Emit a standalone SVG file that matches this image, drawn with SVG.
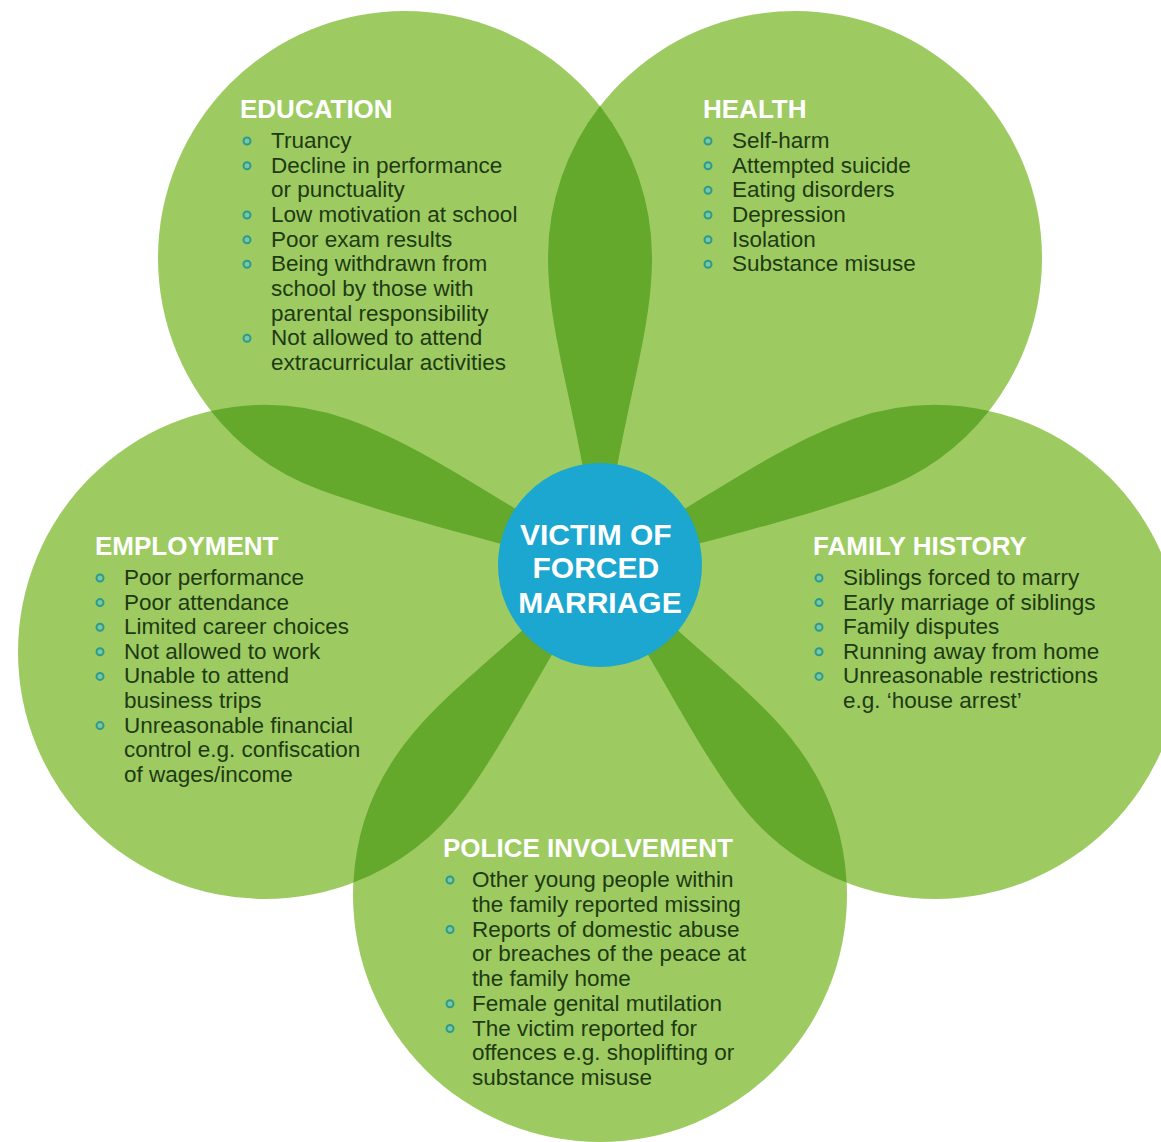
<svg xmlns="http://www.w3.org/2000/svg" width="1161" height="1142" viewBox="0 0 1161 1142">
  <defs>
    <style>
      .disc { fill: #9dcb62; }
      .overlap { fill: #64a82c; }
      .head { font-family: "Liberation Sans", Arial, sans-serif; font-weight: bold; font-size: 26px; fill: #ffffff; }
      .item { font-family: "Liberation Sans", Arial, sans-serif; font-size: 22.5px; fill: #1e3a12; }
      .dot { fill: #7fc6a0; stroke: #2b9c8c; stroke-width: 2; }
      .hub { fill: #1ba7cf; }
      .hub-text { font-family: "Liberation Sans", Arial, sans-serif; font-weight: bold; font-size: 30px; fill: #ffffff; text-anchor: middle; }
    </style>
  </defs>

  <rect width="1161" height="1142" fill="#ffffff"/>

  <!-- light green body of the flower -->
  <g id="flower-body">
    <circle class="disc" cx="600" cy="565" r="250"/>
    <circle class="disc" cx="405" cy="258" r="247"/>
    <circle class="disc" cx="795" cy="258" r="247"/>
    <circle class="disc" cx="935" cy="652" r="247"/>
    <circle class="disc" cx="600" cy="895" r="247"/>
    <circle class="disc" cx="265" cy="652" r="247"/>
  </g>

  <!-- darker petals where neighbouring circles overlap, running in to the hub -->
  <g id="connectors">
    <path class="overlap" d="M600,106 A247,247 0 0 1 652,258 C652,341 618,421 603,565 L597,565 C582,421 548,341 548,258 A247,247 0 0 1 600,106 Z"/>
    <path class="overlap" d="M989,411 A247,247 0 0 1 877.7,490.8 C804.7,516.7 732.1,534.8 601.7,569.7 L598.3,560.3 C716.9,491.8 779.3,445.1 852.3,419.2 A247,247 0 0 1 989,411 Z"/>
    <path class="overlap" d="M846.6,882.6 A247,247 0 0 1 735.1,797 C692.7,738.6 662.5,674.7 596,567.9 L604,562.1 C694.9,651.3 757.5,691.6 799.9,750 A247,247 0 0 1 846.6,882.6 Z"/>
    <path class="overlap" d="M353.4,882.6 A247,247 0 0 1 400.1,750 C442.5,691.6 505.1,651.3 596,562.1 L604,567.9 C537.5,674.7 507.3,738.6 464.9,797 A247,247 0 0 1 353.4,882.6 Z"/>
    <path class="overlap" d="M211,411 A247,247 0 0 1 347.7,419.2 C420.7,445.1 483.1,491.8 601.7,560.3 L598.3,569.7 C467.9,534.8 395.3,516.7 322.3,490.8 A247,247 0 0 1 211,411 Z"/>
  </g>

  <g id="education">
    <text class="head" x="240" y="118">EDUCATION</text>
    <g>
      <circle class="dot" cx="247" cy="141" r="3.5"/>
      <circle class="dot" cx="247" cy="165.7" r="3.5"/>
      <circle class="dot" cx="247" cy="215" r="3.5"/>
      <circle class="dot" cx="247" cy="239.7" r="3.5"/>
      <circle class="dot" cx="247" cy="264.3" r="3.5"/>
      <circle class="dot" cx="247" cy="338.3" r="3.5"/>
    </g>
    <text class="item">
      <tspan x="271" y="148">Truancy</tspan>
      <tspan x="271" y="172.7">Decline in performance</tspan>
      <tspan x="271" y="197.3">or punctuality</tspan>
      <tspan x="271" y="222">Low motivation at school</tspan>
      <tspan x="271" y="246.7">Poor exam results</tspan>
      <tspan x="271" y="271.3">Being withdrawn from</tspan>
      <tspan x="271" y="296">school by those with</tspan>
      <tspan x="271" y="320.7">parental responsibility</tspan>
      <tspan x="271" y="345.3">Not allowed to attend</tspan>
      <tspan x="271" y="370">extracurricular activities</tspan>
    </text>
  </g>

  <g id="health">
    <text class="head" x="703" y="118">HEALTH</text>
    <g>
      <circle class="dot" cx="708" cy="141" r="3.5"/>
      <circle class="dot" cx="708" cy="165.7" r="3.5"/>
      <circle class="dot" cx="708" cy="190.3" r="3.5"/>
      <circle class="dot" cx="708" cy="215" r="3.5"/>
      <circle class="dot" cx="708" cy="239.7" r="3.5"/>
      <circle class="dot" cx="708" cy="264.3" r="3.5"/>
    </g>
    <text class="item">
      <tspan x="732" y="148">Self-harm</tspan>
      <tspan x="732" y="172.7">Attempted suicide</tspan>
      <tspan x="732" y="197.3">Eating disorders</tspan>
      <tspan x="732" y="222">Depression</tspan>
      <tspan x="732" y="246.7">Isolation</tspan>
      <tspan x="732" y="271.3">Substance misuse</tspan>
    </text>
  </g>

  <g id="employment">
    <text class="head" x="95" y="555">EMPLOYMENT</text>
    <g>
      <circle class="dot" cx="100" cy="578" r="3.5"/>
      <circle class="dot" cx="100" cy="602.6" r="3.5"/>
      <circle class="dot" cx="100" cy="627.2" r="3.5"/>
      <circle class="dot" cx="100" cy="651.8" r="3.5"/>
      <circle class="dot" cx="100" cy="676.4" r="3.5"/>
      <circle class="dot" cx="100" cy="725.6" r="3.5"/>
    </g>
    <text class="item">
      <tspan x="124" y="585">Poor performance</tspan>
      <tspan x="124" y="609.6">Poor attendance</tspan>
      <tspan x="124" y="634.2">Limited career choices</tspan>
      <tspan x="124" y="658.8">Not allowed to work</tspan>
      <tspan x="124" y="683.4">Unable to attend</tspan>
      <tspan x="124" y="708">business trips</tspan>
      <tspan x="124" y="732.6">Unreasonable financial</tspan>
      <tspan x="124" y="757.2">control e.g. confiscation</tspan>
      <tspan x="124" y="781.8">of wages/income</tspan>
    </text>
  </g>

  <g id="family-history">
    <text class="head" x="813" y="555">FAMILY HISTORY</text>
    <g>
      <circle class="dot" cx="819" cy="578" r="3.5"/>
      <circle class="dot" cx="819" cy="602.6" r="3.5"/>
      <circle class="dot" cx="819" cy="627.2" r="3.5"/>
      <circle class="dot" cx="819" cy="651.8" r="3.5"/>
      <circle class="dot" cx="819" cy="676.4" r="3.5"/>
    </g>
    <text class="item">
      <tspan x="843" y="585">Siblings forced to marry</tspan>
      <tspan x="843" y="609.6">Early marriage of siblings</tspan>
      <tspan x="843" y="634.2">Family disputes</tspan>
      <tspan x="843" y="658.8">Running away from home</tspan>
      <tspan x="843" y="683.4">Unreasonable restrictions</tspan>
      <tspan x="843" y="708">e.g. ‘house arrest’</tspan>
    </text>
  </g>

  <g id="police-involvement">
    <text class="head" x="443" y="857">POLICE INVOLVEMENT</text>
    <g>
      <circle class="dot" cx="450" cy="880" r="3.5"/>
      <circle class="dot" cx="450" cy="929.5" r="3.5"/>
      <circle class="dot" cx="450" cy="1003.75" r="3.5"/>
      <circle class="dot" cx="450" cy="1028.5" r="3.5"/>
    </g>
    <text class="item">
      <tspan x="472" y="887">Other young people within</tspan>
      <tspan x="472" y="911.75">the family reported missing</tspan>
      <tspan x="472" y="936.5">Reports of domestic abuse</tspan>
      <tspan x="472" y="961.25">or breaches of the peace at</tspan>
      <tspan x="472" y="986">the family home</tspan>
      <tspan x="472" y="1010.75">Female genital mutilation</tspan>
      <tspan x="472" y="1035.5">The victim reported for</tspan>
      <tspan x="472" y="1060.25">offences e.g. shoplifting or</tspan>
      <tspan x="472" y="1085">substance misuse</tspan>
    </text>
  </g>

  <g id="victim-of-forced-marriage">
    <circle class="hub" cx="600" cy="565" r="102"/>
    <text class="hub-text">
      <tspan x="600" y="545">VICTIM OF</tspan>
      <tspan x="600" y="578">FORCED</tspan>
      <tspan x="600" y="613">MARRIAGE</tspan>
    </text>
  </g>
</svg>
